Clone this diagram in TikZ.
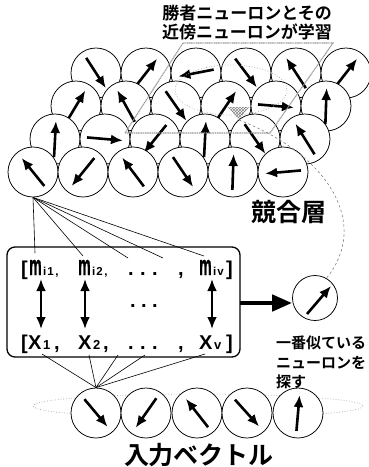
\documentclass[tikz,border=0pt]{standalone}
\usepackage{fontspec}
\usepackage{graphicx}
\usetikzlibrary{arrows.meta,patterns,calc}
\newfontfamily\jp{Noto Sans CJK JP}[BoldFont=* Bold]
\newfontfamily\lat{Liberation Sans}
\newfontfamily\latm{Liberation Sans}[FakeBold=1.5]
% a tall, narrow m for the weight vector
\newcommand\narrowm{\scalebox{0.5}[1]{m}}
% neuron: name, x, y, direction of its vector (degrees, counter-clockwise)
\newcommand\neuronat[4]{%
  \node[neuron] (#1) at (#2,#3) {};
  \draw[vec] ($(#1)+({180-#4}:18)$) -- ($(#1)+({-#4}:18)$);
}
\begin{document}
\begin{tikzpicture}[x=1pt,y=-1pt,
  neuron/.style={circle,draw,fill=white,line width=0.75pt,minimum size=50pt,inner sep=0pt},
  vec/.style={line width=2.6pt,-{Latex[length=12pt,width=10pt]}},
  dblvec/.style={line width=2.6pt,{Latex[length=12pt,width=10pt]}-{Latex[length=12pt,width=10pt]}},
  guide/.style={gray!80,line width=1.1pt,dash pattern=on 1.2pt off 0.6pt},
  halo/.style={gray!70,line width=0.7pt,dotted},
  fan/.style={line width=0.6pt},
  tok/.style={font=\lat\bfseries\fontsize{20}{20}\selectfont,inner sep=0pt,anchor=base west},
  sub/.style={font=\lat\bfseries\fontsize{11.5}{11.5}\selectfont,inner sep=0pt,anchor=base west},
  subx/.style={font=\lat\bfseries\fontsize{13}{13}\selectfont,inner sep=0pt,anchor=base west},
  mtok/.style={font=\latm\bfseries\fontsize{28}{28}\selectfont,inner sep=0pt,anchor=base west},
  dot/.style={font=\lat\bfseries\fontsize{20}{20}\selectfont,inner sep=0pt,anchor=base},
  label/.style={font=\jp\bfseries,inner sep=0pt}]
\useasboundingbox (0,0) rectangle (368,467);

% ---- input layer halo (behind the input neurons)
\draw[halo] (198,406) ellipse [x radius=165, y radius=12];

% ---- competitive layer, back row first
\neuronat{ra1}{96}{73}{-57}
\neuronat{ra2}{146}{73}{52}
\neuronat{ra3}{196}{73}{191}
\neuronat{ra4}{246}{73}{-53}
\neuronat{ra5}{296}{73}{123}
\neuronat{ra6}{346}{73}{52}

\neuronat{rb1}{76}{106}{59}
\neuronat{rb2}{126}{106}{119}
\neuronat{rb3}{176}{106}{-55}
\neuronat{rb4}{226}{106}{56}
\neuronat{rb5}{276}{106}{-5}
\neuronat{rb6}{326}{106}{88}

\neuronat{rc1}{55}{139}{87}
\neuronat{rc2}{105}{139}{-5}
\neuronat{rc3}{155}{139}{231}
\neuronat{rc4}{205}{139}{87}
\neuronat{rc5}{255}{139}{-55}
\neuronat{rc6}{305}{139}{122}

\neuronat{rd1}{33}{172}{129}
\neuronat{rd2}{83}{172}{231}
\neuronat{rd3}{133}{172}{127}
\neuronat{rd4}{183}{172}{-56}
\neuronat{rd5}{233}{172}{88}
\neuronat{rd6}{283}{172}{185}

% ---- learning neighbourhood: plane, ellipse, winner mark
\coordinate (pbl) at (125,133);
\coordinate (pbr) at (270,133);
\coordinate (ptr) at (333,43);
\coordinate (ptl) at (183,43);
\draw[guide] (pbl) -- (pbr) -- (ptr) -- (ptl) -- cycle;
\draw[halo] (231,90) ellipse [x radius=56, y radius=25];
\coordinate (win) at (239,120);
\fill[pattern=crosshatch,pattern color=gray] (228,107) -- (249,107) -- (win) -- cycle;

% ---- best matching neuron
\node[neuron,minimum size=45pt] (best) at (315,298) {};
\draw[vec] ($(best)+(-8,16)$) -- ($(best)+(16,-12)$);
\draw[gray,line width=0.6pt,dash pattern=on 2.5pt off 2.5pt]
  (win) .. controls (330,155) and (370,225) .. (best.60);

% ---- comparison box
\draw[line width=1.3pt,rounded corners=8pt] (7,247) rectangle (240,357);
\coordinate (boxe) at (240,303);

% weight vector row
\node[tok] (mlb) at (21,275) {[};
\node[mtok] (m1) at (29,275) {\narrowm};
\node[sub] (m1s) at (43,275) {i\hspace{1pt}1\hspace{1.5pt},};
\node[mtok] (m2) at (78,275) {\narrowm};
\node[sub] (m2s) at (92,275) {i\hspace{1pt}2\hspace{1.5pt},};
\node[dot] (md1) at (131,275) {.};
\node[dot] (md2) at (143,275) {.};
\node[dot] (md3) at (155,275) {.};
\node[dot] (mc) at (181,275) {,};
\node[mtok] (mv) at (199,275) {\narrowm};
\node[sub] (mvs) at (213,275) {i\hspace{1pt}v};
\node[tok] (mrb) at (226,275) {]};

% input vector row
\node[tok] (xlb) at (21,349) {[};
\node[tok] (x1) at (28,349) {X};
\node[subx] (x1s) at (43,349) {1};
\node[dot] (x1c) at (57,349) {,};
\node[tok] (x2) at (78,349) {X};
\node[subx] (x2s) at (93,349) {2};
\node[dot] (x2c) at (106,349) {,};
\node[dot] (xd1) at (131,349) {.};
\node[dot] (xd2) at (143,349) {.};
\node[dot] (xd3) at (155,349) {.};
\node[dot] (xc) at (181,349) {,};
\node[tok] (xv) at (199,349) {X};
\node[subx] (xvs) at (214,349) {v};
\node[tok] (xrb) at (226,349) {]};

% middle dots
\node[dot] (cd1) at (133,307) {.};
\node[dot] (cd2) at (144,307) {.};
\node[dot] (cd3) at (155,307) {.};

% element-wise comparisons
\coordinate (a1t) at (41,279); \coordinate (a1b) at (41,329);
\coordinate (a2t) at (85,279); \coordinate (a2b) at (85,329);
\coordinate (a3t) at (212,279); \coordinate (a3b) at (212,329);
\draw[dblvec] (a1t) -- (a1b);
\draw[dblvec] (a2t) -- (a2b);
\draw[dblvec] (a3t) -- (a3b);

% fan from the competitive layer into the weights
\coordinate (w1) at (35,253);
\coordinate (w2) at (83,256);
\coordinate (w3) at (128,258);
\coordinate (w4) at (163,258);
\coordinate (w5) at (204,256);
\foreach \w in {w1,w2,w3,w4,w5} \draw[fan] (rd1.south) -- (\w);

% ---- input layer
\neuronat{in1}{96}{413}{-50}
\neuronat{in2}{146}{413}{235}
\neuronat{in3}{197}{413}{128}
\neuronat{in4}{247}{413}{-48}
\neuronat{in5}{298}{413}{85}

% fan from the input neurons into the input vector
\coordinate (v1) at (42,354);
\coordinate (v2) at (89,355);
\coordinate (v3) at (118,355);
\coordinate (v4) at (145,355);
\coordinate (v5) at (205,354);
\foreach \v in {v1,v2,v3,v4,v5} \draw[fan] (in1.north) -- (\v);

% ---- search for the best matching neuron
\draw[line width=4.5pt,-{Triangle[length=20pt,width=16pt]}] (boxe) -- (best.west |- boxe);

% ---- labels
\node[label,font=\jp\bfseries\fontsize{17}{19}\selectfont,align=center] (tlearn) at (247,23)
  {勝者ニューロンとその\\近傍ニューロンが学習};
\node[label,font=\jp\bfseries\fontsize{25}{25}\selectfont] (tcomp) at (289,212) {競合層};
\node[label,font=\jp\bfseries\fontsize{15}{19.5}\selectfont,align=left,anchor=north west] (tfind) at (276,336)
  {一番似ている\\ニューロンを\\探す};
\node[label,font=\jp\bfseries\fontsize{25}{25}\selectfont] (tinput) at (199,455) {入力ベクトル};
\end{tikzpicture}
\end{document}
